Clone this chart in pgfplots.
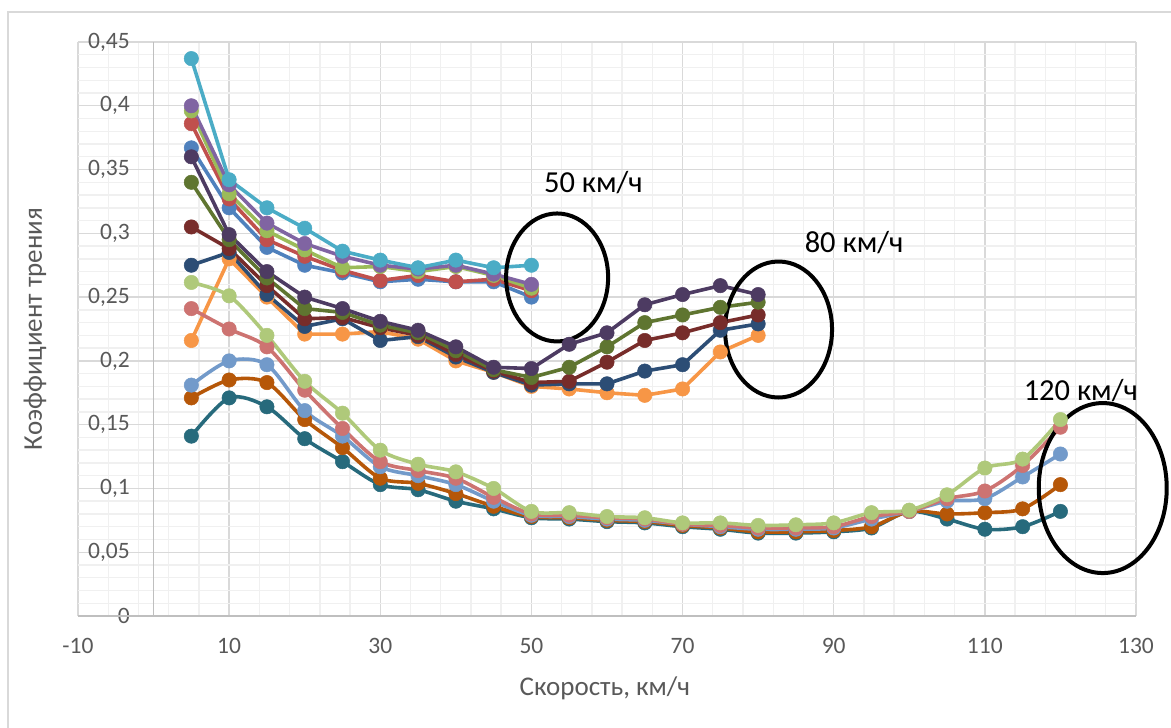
\documentclass[border=0pt]{standalone}
\usepackage{fontspec}
\setmainfont{Carlito}
\usepackage{pgfplots}
\pgfplotsset{compat=1.18}
\definecolor{sA1}{HTML}{4F81BD}
\definecolor{sA2}{HTML}{C0504D}
\definecolor{sA3}{HTML}{9BBB59}
\definecolor{sA4}{HTML}{8064A2}
\definecolor{sA5}{HTML}{4BACC6}
\definecolor{sB1}{HTML}{F79646}
\definecolor{sB2}{HTML}{2C4D75}
\definecolor{sB3}{HTML}{772C2A}
\definecolor{sB4}{HTML}{5F7530}
\definecolor{sB5}{HTML}{4D3B62}
\definecolor{sC1}{HTML}{276A7C}
\definecolor{sC2}{HTML}{B65708}
\definecolor{sC3}{HTML}{729ACA}
\definecolor{sC4}{HTML}{CD7371}
\definecolor{sC5}{HTML}{AFC97A}
\definecolor{textgray}{HTML}{595959}
\definecolor{gridmaj}{HTML}{D9D9D9}
\definecolor{gridmin}{HTML}{F0F0F0}
\definecolor{axisgray}{HTML}{BFBFBF}
\definecolor{border}{HTML}{D9D9D9}
\begin{document}
\begin{tikzpicture}
\useasboundingbox (0,0) rectangle (1171pt,728pt);
\fill[white] (0,0) rectangle (1171pt,728pt);
\draw[color=border, line width=1.5pt] (8pt,0) -- (8pt,716pt) -- (1171pt,716pt);
\begin{axis}[
  at={(78pt,112pt)}, anchor=south west,
  scale only axis, width=1058pt, height=574pt,
  xmin=-10, xmax=130, ymin=0, ymax=0.45,
  clip=false,
  axis line style={draw=none},
  tick style={draw=none},
  xtick={-10,10,30,50,70,90,110,130},
  xticklabels={-10,10,30,50,70,90,110,130},
  ytick={0,0.05,0.1,0.15,0.2,0.25,0.3,0.35,0.4,0.45},
  yticklabels={0,{0,05},{0,1},{0,15},{0,2},{0,25},{0,3},{0,35},{0,4},{0,45}},
  minor x tick num=4, minor y tick num=4,
  grid=both,
  major grid style={color=gridmaj, line width=1.4pt},
  minor grid style={color=gridmin, line width=1.4pt},
  ticklabel style={font=\fontsize{23.5}{23.5}\selectfont, text=textgray},
  xticklabel style={anchor=center, yshift=-30pt},
  yticklabel style={anchor=east, inner sep=0pt, xshift=52pt},
  xlabel={Скорость, км/ч},
  ylabel={Коэффициент трения},
  every axis x label/.style={at={(axis description cs:0.498,-0.1254)}, anchor=center, font=\fontsize{27}{27}\selectfont, text=textgray},
  every axis y label/.style={at={(axis description cs:-0.0406,0.5)}, rotate=90, anchor=center, font=\fontsize{27}{27}\selectfont, text=textgray},
  ser/.style={color=#1, line width=3.6pt, mark=*, mark size=7.2pt, mark options={solid, fill=#1, draw=#1, line width=0.5pt}},
  sers/.style={ser=#1, smooth, tension=0.5},
]
\draw[axisgray, line width=1.5pt] (axis cs:-10,0) -- (axis cs:130,0);
\draw[axisgray, line width=1.5pt] (axis cs:0,0) -- (axis cs:0,0.45);
% group A (to 50 km/h)
\addplot[ser=sA1] coordinates {(5,0.367)(10,0.320)(15,0.289)(20,0.275)(25,0.269)(30,0.262)(35,0.264)(40,0.262)(45,0.262)(50,0.250)};
\addplot[ser=sA2] coordinates {(5,0.386)(10,0.327)(15,0.295)(20,0.282)(25,0.271)(30,0.263)(35,0.267)(40,0.262)(45,0.264)(50,0.255)};
\addplot[ser=sA3] coordinates {(5,0.396)(10,0.331)(15,0.302)(20,0.287)(25,0.273)(30,0.274)(35,0.270)(40,0.274)(45,0.267)(50,0.257)};
\addplot[ser=sA4] coordinates {(5,0.400)(10,0.338)(15,0.308)(20,0.292)(25,0.282)(30,0.275)(35,0.272)(40,0.275)(45,0.268)(50,0.260)};
\addplot[ser=sA5] coordinates {(5,0.437)(10,0.342)(15,0.320)(20,0.304)(25,0.286)(30,0.279)(35,0.273)(40,0.279)(45,0.273)(50,0.275)};
% group B (to 80 km/h)
\addplot[ser=sB1] coordinates {(5,0.216)(10,0.280)(15,0.250)(20,0.221)(25,0.221)(30,0.223)(35,0.217)(40,0.200)(45,0.191)(50,0.180)(55,0.178)(60,0.175)(65,0.173)(70,0.178)(75,0.207)(80,0.220)};
\addplot[ser=sB2] coordinates {(5,0.275)(10,0.285)(15,0.252)(20,0.227)(25,0.233)(30,0.216)(35,0.219)(40,0.203)(45,0.191)(50,0.181)(55,0.182)(60,0.182)(65,0.192)(70,0.197)(75,0.224)(80,0.229)};
\addplot[ser=sB3] coordinates {(5,0.305)(10,0.288)(15,0.259)(20,0.233)(25,0.234)(30,0.226)(35,0.220)(40,0.205)(45,0.192)(50,0.183)(55,0.184)(60,0.199)(65,0.216)(70,0.222)(75,0.230)(80,0.236)};
\addplot[ser=sB4] coordinates {(5,0.340)(10,0.295)(15,0.265)(20,0.241)(25,0.238)(30,0.228)(35,0.222)(40,0.208)(45,0.193)(50,0.187)(55,0.195)(60,0.211)(65,0.230)(70,0.236)(75,0.242)(80,0.246)};
\addplot[ser=sB5] coordinates {(5,0.360)(10,0.299)(15,0.270)(20,0.250)(25,0.241)(30,0.231)(35,0.224)(40,0.211)(45,0.195)(50,0.194)(55,0.213)(60,0.222)(65,0.244)(70,0.252)(75,0.259)(80,0.252)};
% group C (to 120 km/h)
\addplot[sers=sC1] coordinates {(5,0.141)(10,0.171)(15,0.164)(20,0.139)(25,0.121)(30,0.103)(35,0.099)(40,0.090)(45,0.084)(50,0.077)(55,0.076)(60,0.074)(65,0.073)(70,0.070)(75,0.068)(80,0.065)(85,0.065)(90,0.066)(95,0.069)(100,0.082)(105,0.076)(110,0.068)(115,0.070)(120,0.082)};
\addplot[sers=sC2] coordinates {(5,0.171)(10,0.185)(15,0.183)(20,0.154)(25,0.132)(30,0.108)(35,0.104)(40,0.096)(45,0.086)(50,0.078)(55,0.077)(60,0.075)(65,0.074)(70,0.071)(75,0.069)(80,0.066)(85,0.066)(90,0.067)(95,0.070)(100,0.082)(105,0.080)(110,0.081)(115,0.084)(120,0.103)};
\addplot[sers=sC3] coordinates {(5,0.181)(10,0.200)(15,0.197)(20,0.161)(25,0.141)(30,0.117)(35,0.110)(40,0.103)(45,0.090)(50,0.079)(55,0.078)(60,0.076)(65,0.075)(70,0.072)(75,0.070)(80,0.068)(85,0.068)(90,0.069)(95,0.076)(100,0.082)(105,0.090)(110,0.092)(115,0.109)(120,0.127)};
\addplot[sers=sC4] coordinates {(5,0.241)(10,0.225)(15,0.211)(20,0.177)(25,0.147)(30,0.121)(35,0.114)(40,0.108)(45,0.093)(50,0.080)(55,0.079)(60,0.077)(65,0.076)(70,0.072)(75,0.071)(80,0.069)(85,0.069)(90,0.070)(95,0.078)(100,0.082)(105,0.092)(110,0.098)(115,0.118)(120,0.148)};
\addplot[sers=sC5] coordinates {(5,0.2615)(10,0.251)(15,0.220)(20,0.184)(25,0.159)(30,0.130)(35,0.119)(40,0.113)(45,0.100)(50,0.082)(55,0.081)(60,0.078)(65,0.077)(70,0.073)(75,0.073)(80,0.071)(85,0.0715)(90,0.073)(95,0.081)(100,0.083)(105,0.095)(110,0.116)(115,0.123)(120,0.154)};
% annotations
\draw[black, line width=4pt] (axis cs:53.4,0.2654) ellipse [x radius=51pt, y radius=64pt];
\draw[black, line width=4pt] (axis cs:82.7,0.2246) ellipse [x radius=53.5pt, y radius=68pt];
\draw[black, line width=4pt] (axis cs:125.6,0.1003) ellipse [x radius=64pt, y radius=85pt];
\node[font=\fontsize{30.5}{30.5}\selectfont, text=black, anchor=center] at (axis cs:58.2,0.340) {50 км/ч};
\node[font=\fontsize{30.5}{30.5}\selectfont, text=black, anchor=center] at (axis cs:92.7,0.293) {80 км/ч};
\node[font=\fontsize{30.5}{30.5}\selectfont, text=black, anchor=center] at (axis cs:122.7,0.177) {120 км/ч};
\end{axis}
\end{tikzpicture}
\end{document}
